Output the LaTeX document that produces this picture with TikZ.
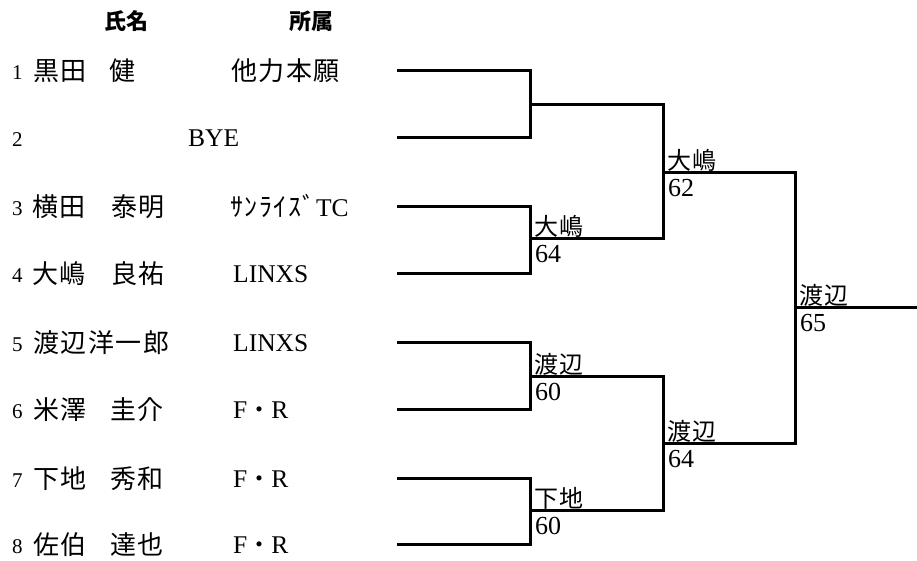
\documentclass[tikz,border=0pt]{standalone}
\usepackage{fontspec}
\setmainfont{Liberation Serif}
\newfontfamily\cjk{Noto Sans CJK JP}[LetterSpace=6]
\newfontfamily\cjkplain{Noto Sans CJK JP}
\tikzset{
  num/.style={anchor=base west, inner sep=0pt, font=\fontsize{21}{24}\selectfont},
  nm/.style={anchor=base west, inner sep=0pt, font=\cjk\fontsize{26}{30}\selectfont},
  lat/.style={anchor=base west, inner sep=0pt, font=\fontsize{25.5}{28}\selectfont},
  head/.style={anchor=base west, inner sep=0pt, font=\cjkplain\bfseries\fontsize{22}{24}\selectfont},
  win/.style={anchor=base west, inner sep=0pt, font=\cjk\fontsize{24}{26}\selectfont},
  score/.style={anchor=base west, inner sep=0pt, font=\fontsize{26}{28}\selectfont},
  br/.style={line width=3pt, line join=miter}
}
\begin{document}
\begin{tikzpicture}[x=1pt,y=-1pt]
\useasboundingbox (0,0) rectangle (917,560);
% headers
\node[head] (h-name) at (104,29) {氏名};
\node[head] (h-club) at (289,29) {所属};
% rows
\node[num] (n1) at (12,79) {1};
\node[nm] (a1) at (33,80) {黒田};
\node[nm] (b1) at (109,80) {健};
\node[nm] (c1) at (231,80) {他力本願};
\node[num] (n2) at (12,146) {2};
\node[lat] (c2) at (188,146) {BYE};
\node[num] (n3) at (12,215) {3};
\node[nm] (a3) at (32,216) {横田};
\node[nm] (b3) at (111,216) {泰明};
\node[nm] (c3) at (230,216) {ｻﾝﾗｲｽﾞ{\rmfamily\fontsize{25.5}{28}\selectfont TC}};
\node[num] (n4) at (12,282) {4};
\node[nm] (a4) at (32,283) {大嶋};
\node[nm] (b4) at (111,283) {良祐};
\node[lat] (c4) at (233,282) {LINXS};
\node[num] (n5) at (12,351) {5};
\node[nm] (a5) at (33,352) {渡辺洋一郎};
\node[lat] (c5) at (233,351) {LINXS};
\node[num] (n6) at (12,418) {6};
\node[nm] (a6) at (33,419) {米澤};
\node[nm] (b6) at (110,419) {圭介};
\node[lat] (c6) at (233,418) {F{\cjkplain\fontsize{24}{28}\selectfont ・}R};
\node[num] (n7) at (12,487) {7};
\node[nm] (a7) at (33,488) {下地};
\node[nm] (b7) at (110,488) {秀和};
\node[lat] (c7) at (233,487) {F{\cjkplain\fontsize{24}{28}\selectfont ・}R};
\node[num] (n8) at (12,553) {8};
\node[nm] (a8) at (33,554) {佐伯};
\node[nm] (b8) at (110,554) {達也};
\node[lat] (c8) at (233,553) {F{\cjkplain\fontsize{24}{28}\selectfont ・}R};
% bracket coordinates
\coordinate (p1) at (397,70);
\coordinate (p2) at (397,137);
\coordinate (p3) at (397,206);
\coordinate (p4) at (397,273);
\coordinate (p5) at (397,342);
\coordinate (p6) at (397,409);
\coordinate (p7) at (397,478);
\coordinate (p8) at (397,544);
\coordinate (q12) at (530,104);
\coordinate (q34) at (530,238);
\coordinate (q56) at (530,376);
\coordinate (q78) at (530,510);
\coordinate (h1) at (663,172);
\coordinate (h2) at (663,443);
\coordinate (f) at (795,307);
\coordinate (e) at (917,307);
% bracket lines
\draw[br] (p1) -| (q12) |- (p2);
\draw[br] (p3) -| (q34) |- (p4);
\draw[br] (p5) -| (q56) |- (p6);
\draw[br] (p7) -| (q78) |- (p8);
\draw[br] (q12) -| (h1) |- (q34);
\draw[br] (q56) -| (h2) |- (q78);
\draw[br] (h1) -| (f) |- (h2);
\draw[br] (f) -- (e);
% winners and scores
\node[win] (w34) at (534,235) {大嶋};
\node[score] (s34) at (535,262) {64};
\node[win] (w56) at (534,373) {渡辺};
\node[score] (s56) at (535,400) {60};
\node[win] (w78) at (534,507) {下地};
\node[score] (s78) at (535,534) {60};
\node[win] (wh1) at (667,169) {大嶋};
\node[score] (sh1) at (668,196) {62};
\node[win] (wh2) at (667,440) {渡辺};
\node[score] (sh2) at (668,467) {64};
\node[win] (wf) at (799,304) {渡辺};
\node[score] (sf) at (800,331) {65};
\end{tikzpicture}
\end{document}
